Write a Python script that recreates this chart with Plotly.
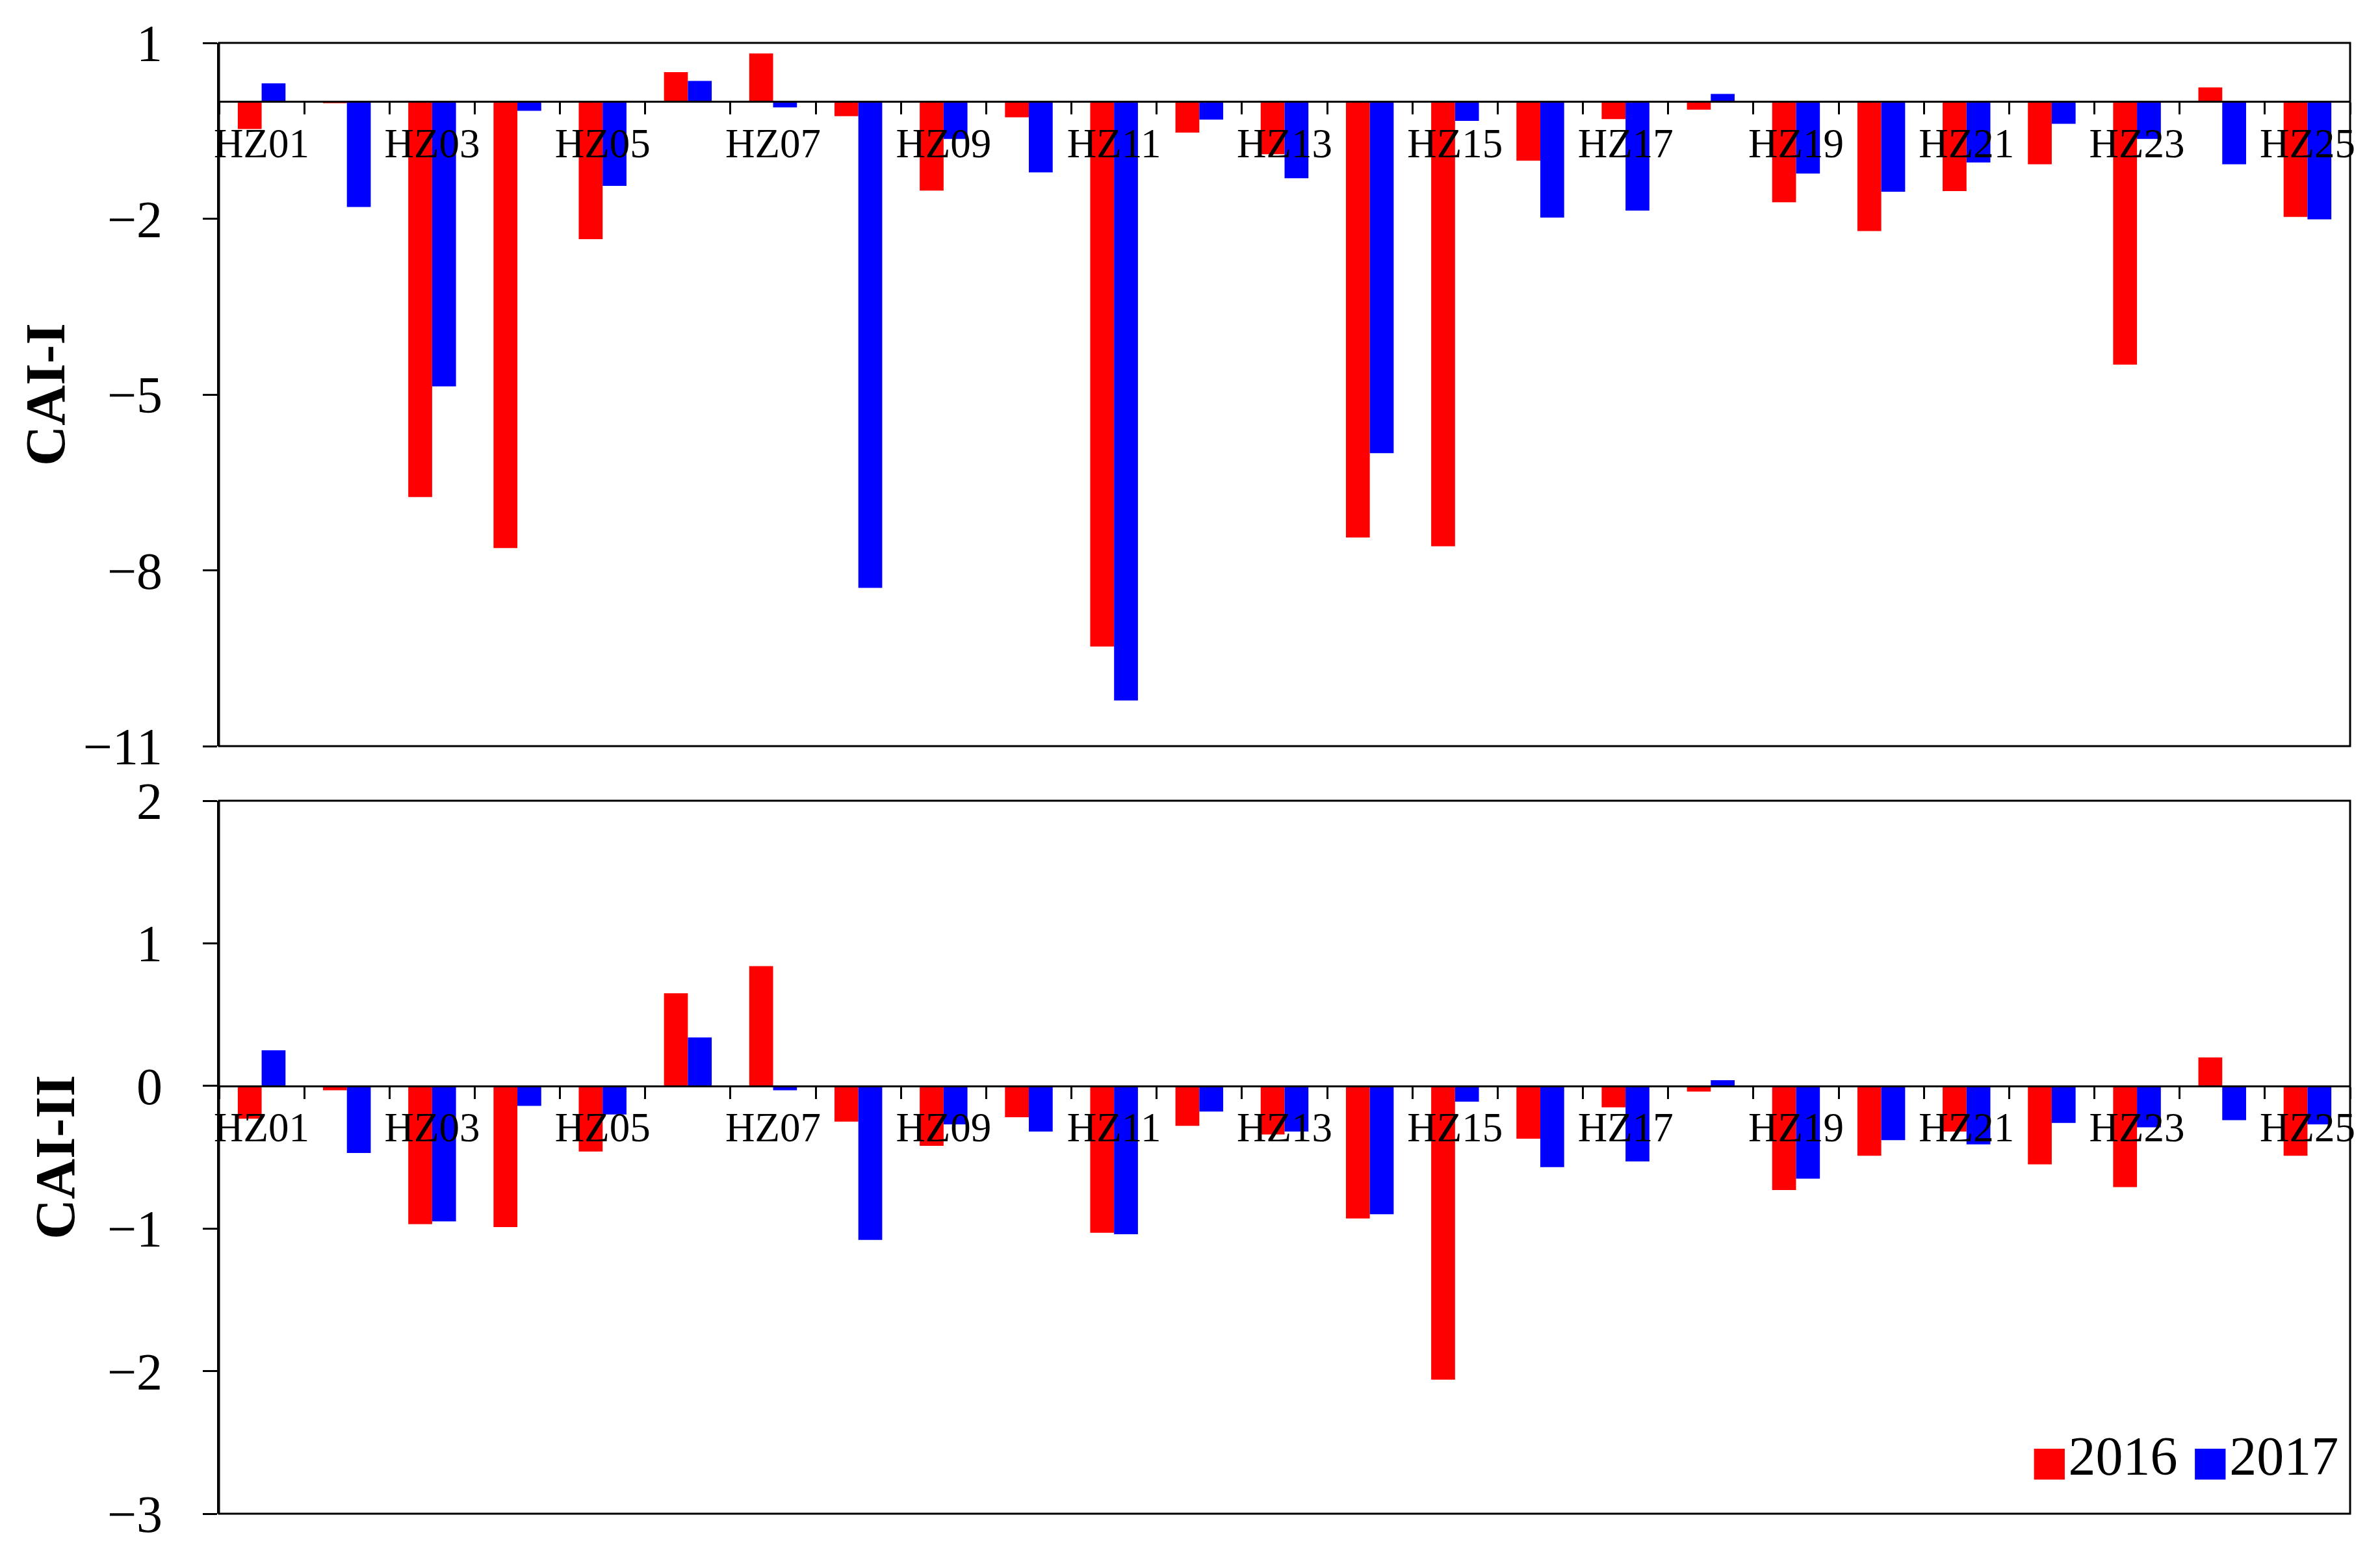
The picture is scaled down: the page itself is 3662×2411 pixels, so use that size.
import plotly.graph_objects as go

categories = ["HZ%02d" % i for i in range(1, 26)]
tick_text = [c if i % 2 == 0 else "" for i, c in enumerate(categories)]

cai1_2016 = [-0.47, -0.03, -6.75, -7.62, -2.35, 0.50, 0.82, -0.25, -1.52, -0.27, -9.30, -0.53, -0.90,
             -7.44, -7.59, -1.01, -0.30, -0.14, -1.72, -2.21, -1.53, -1.07, -4.49, 0.24, -1.97]
cai1_2017 = [0.31, -1.80, -4.86, -0.16, -1.44, 0.35, -0.10, -8.30, -0.64, -1.21, -10.22, -0.31, -1.31,
             -6.00, -0.33, -1.98, -1.86, 0.13, -1.23, -1.54, -1.04, -0.38, -0.64, -1.07, -2.01]
cai2_2016 = [-0.23, -0.03, -0.97, -0.99, -0.46, 0.65, 0.84, -0.25, -0.42, -0.22, -1.03, -0.28, -0.34,
             -0.93, -2.06, -0.37, -0.15, -0.04, -0.73, -0.49, -0.32, -0.55, -0.71, 0.20, -0.49]
cai2_2017 = [0.25, -0.47, -0.95, -0.14, -0.20, 0.34, -0.03, -1.08, -0.27, -0.32, -1.04, -0.18, -0.32,
             -0.90, -0.11, -0.57, -0.53, 0.04, -0.65, -0.38, -0.41, -0.26, -0.29, -0.24, -0.27]

years = ["2016", "2017"]
colors = ["#FF0000", "#0000FF"]

y1_ticks = [1, -2, -5, -8, -11]
y2_ticks = [2, 1, 0, -1, -2, -3]
y1_range = [-11, 1]
y2_range = [-3, 2]

W, H = 3662, 2411
ml, mr, mt, mb = 329, 54, 58, 90
plot_h = H - mt - mb
top_d = [(H - mb - (1147 - 7)) / plot_h, 1.0]
bot_d = [0.0, (H - mb - (1231 - 7)) / plot_h]

FONT = "Liberation Serif"

fig = go.Figure()
for vals, yr, col in [(cai1_2016, years[0], colors[0]), (cai1_2017, years[1], colors[1])]:
    fig.add_trace(go.Bar(x=categories, y=vals, name=yr, marker=dict(color=col, line=dict(width=0)),
                         xaxis="x", yaxis="y", showlegend=False))
for vals, yr, col in [(cai2_2016, years[0], colors[0]), (cai2_2017, years[1], colors[1])]:
    fig.add_trace(go.Bar(x=categories, y=vals, name=yr, marker=dict(color=col, line=dict(width=0)),
                         xaxis="x2", yaxis="y2", showlegend=False))


def zero_pos(dom, rng):
    return dom[0] + (dom[1] - dom[0]) * (0 - rng[0]) / (rng[1] - rng[0])


xcommon = dict(type="category", categoryorder="array", categoryarray=categories,
               tickmode="array", tickvals=categories, ticktext=tick_text,
               tickson="boundaries", ticks="outside", ticklen=18, tickwidth=3, tickcolor="black",
               showline=True, linewidth=3, linecolor="black", showgrid=False, zeroline=False,
               tickfont=dict(family=FONT, size=63, color="black"), ticklabelstandoff=8,
               domain=[0, 1], anchor="free", tickangle=0)
ycommon = dict(ticks="outside", ticklen=22, tickwidth=3, tickcolor="black", showline=True,
               linewidth=3, linecolor="black", showgrid=False, zeroline=False,
               tickfont=dict(family=FONT, size=80, color="black"), ticklabelstandoff=46)

fig.update_layout(
    xaxis=dict(**xcommon, position=zero_pos(top_d, y1_range)),
    xaxis2=dict(**xcommon, position=zero_pos(bot_d, y2_range)),
    yaxis=dict(**ycommon, domain=top_d, range=y1_range, tickmode="array", tickvals=y1_ticks,
               anchor="x",
               title=dict(text="<b>CAI-I</b>", font=dict(family=FONT, size=86, color="black"), standoff=0)),
    yaxis2=dict(**ycommon, domain=bot_d, range=y2_range, tickmode="array", tickvals=y2_ticks,
                anchor="x2",
                title=dict(text="<b>CAI-II</b>", font=dict(family=FONT, size=86, color="black"), standoff=22)),
    barmode="group", bargap=0.44, bargroupgap=0,
    width=W, height=H, margin=dict(l=ml, r=mr, t=mt, b=mb, autoexpand=False),
    paper_bgcolor="white", plot_bgcolor="white", showlegend=False,
    font=dict(family=FONT, color="black"),
)

for xr, yr in [("x", "y"), ("x2", "y2")]:
    fig.add_shape(type="rect", xref=f"{xr} domain", yref=f"{yr} domain", x0=0, x1=1, y0=0, y1=1,
                  line=dict(color="black", width=3), fillcolor="rgba(0,0,0,0)", layer="above")

legend_text = "".join(
    f'<span style="color:{c};font-family:DejaVu Sans;font-size:62px">■</span>{y} '
    for y, c in zip(years, colors)).strip()
fig.add_annotation(xref="paper", yref="paper", x=0.995, y=0.039, xanchor="right", yanchor="middle",
                   text=legend_text, showarrow=False, font=dict(family=FONT, size=84, color="black"))

fig.write_html("out.html")
